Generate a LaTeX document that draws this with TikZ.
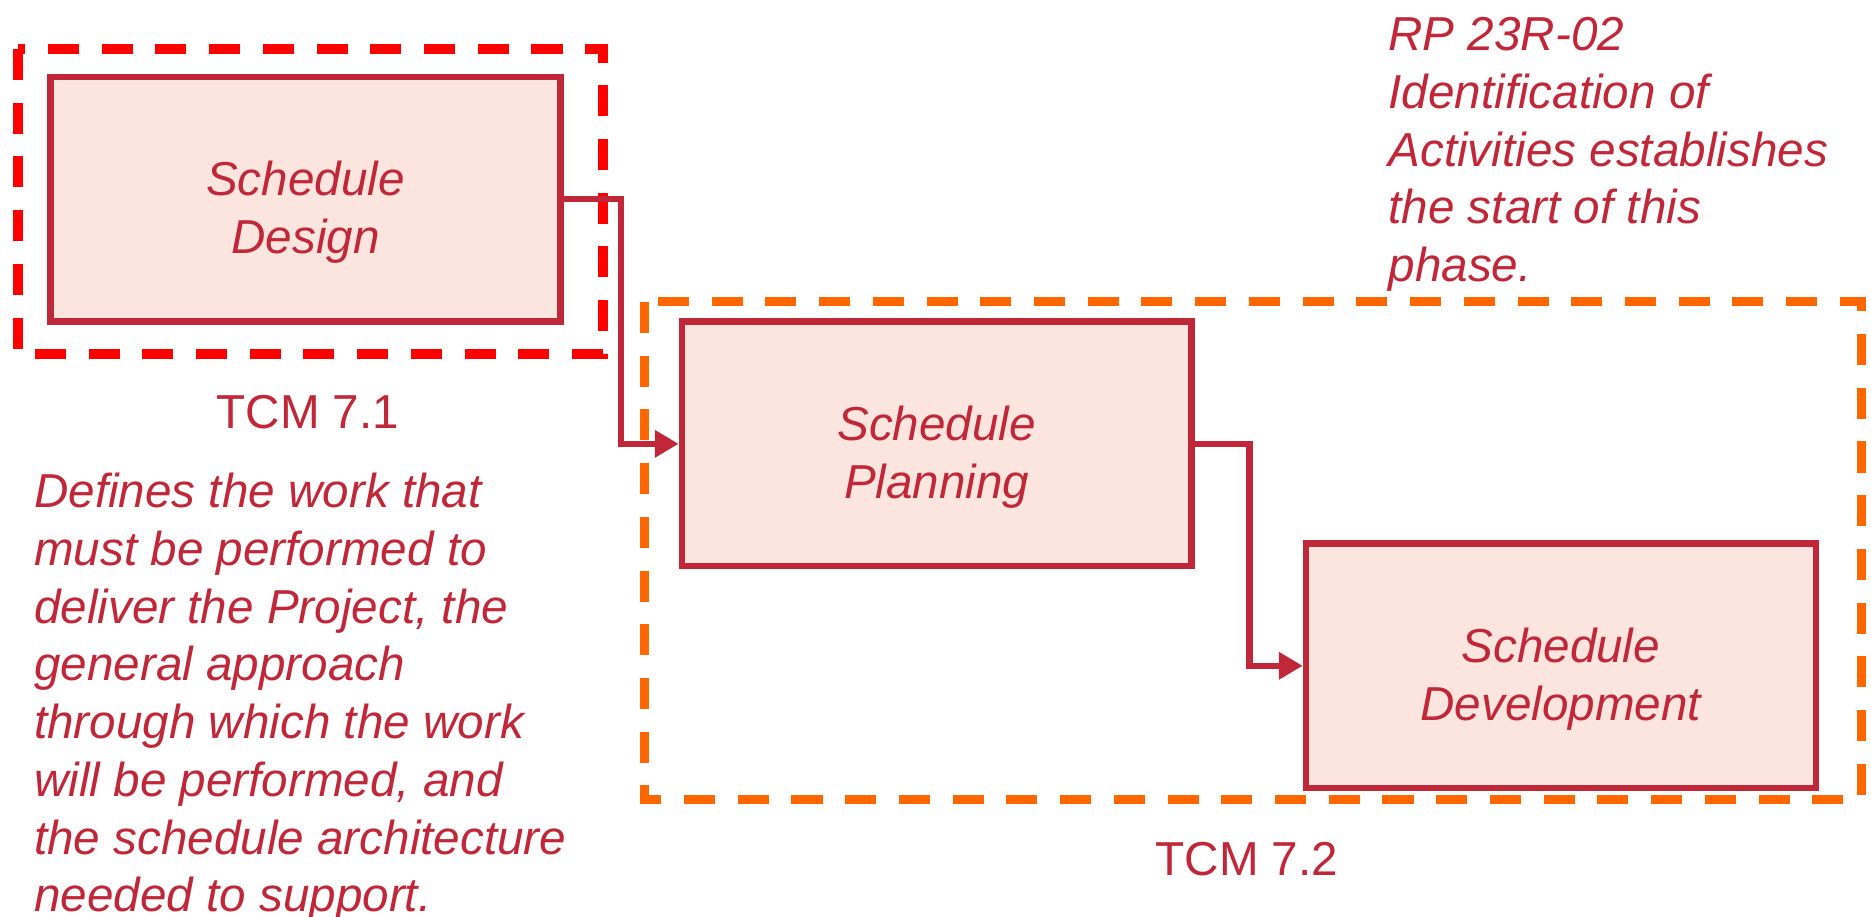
\documentclass[tikz,border=0pt]{standalone}
\usepackage{fontspec}
\setmainfont{Liberation Sans}
\usetikzlibrary{arrows.meta}
\definecolor{crim}{RGB}{192,40,58}
\definecolor{boxfill}{RGB}{252,229,222}
\definecolor{dashred}{RGB}{255,0,0}
\definecolor{dashorange}{RGB}{255,102,0}
\tikzset{
  txt/.style={font=\fontsize{11.35}{13.75}\selectfont, text=crim, inner sep=0pt},
  itxt/.style={txt, font=\fontsize{11.35}{13.75}\selectfont\itshape},
  stagelabel/.style={align=center, inner sep=0pt, yshift=-0.11cm,
    font=\fontsize{11.35}{13.75}\selectfont\itshape, text=crim},
  stagebox/.style={draw=crim, line width=1.5pt, fill=boxfill,
    minimum width=4.27cm, minimum height=2.05cm,
    label={[stagelabel]center:{#1}}},
  reddash/.style={draw=dashred, line width=2.4pt, dash pattern=on 0.26cm off 0.19cm},
  orangedash/.style={draw=dashorange, line width=2.2pt, dash pattern=on 0.26cm off 0.19cm},
  conn/.style={draw=crim, line width=1.5pt, -{Triangle[length=0.2cm,width=0.22cm]}}
}
\begin{document}
\begin{tikzpicture}[x=0.01cm,y=-0.01cm]
\useasboundingbox (0,0) rectangle (1568,768);
% group frames
\draw[reddash] (15,41) rectangle (505,297);
\draw[orangedash] (540,253) rectangle (1560,670);
% stages
\node[stagebox={Schedule\\Design}] (design) at (256,167) {};
\node[stagebox={Schedule\\Planning}] (plan) at (785,372) {};
\node[stagebox={Schedule\\Development}] (dev) at (1308,558) {};
% connectors
\draw[conn] (design.east) -- ++(48,0) |- (plan.west);
\draw[conn] (plan.east) -- ++(46,0) |- (dev.west);
% labels
\node[txt] (tcm1) at (258,345) {TCM 7.1};
\node[txt] (tcm2) at (1045,720) {TCM 7.2};
\node[itxt, align=left, anchor=north west] (desc) at (28,396)
 {Defines the work that\\must be performed to\\deliver the Project, the\\general approach\\through which the work\\will be performed, and\\the schedule architecture\\needed to support.};
\node[itxt, align=left, anchor=north west] (rp) at (1163,14)
 {RP 23R-02\\Identification of\\Activities establishes\\the start of this\\phase.};
\end{tikzpicture}
\end{document}
